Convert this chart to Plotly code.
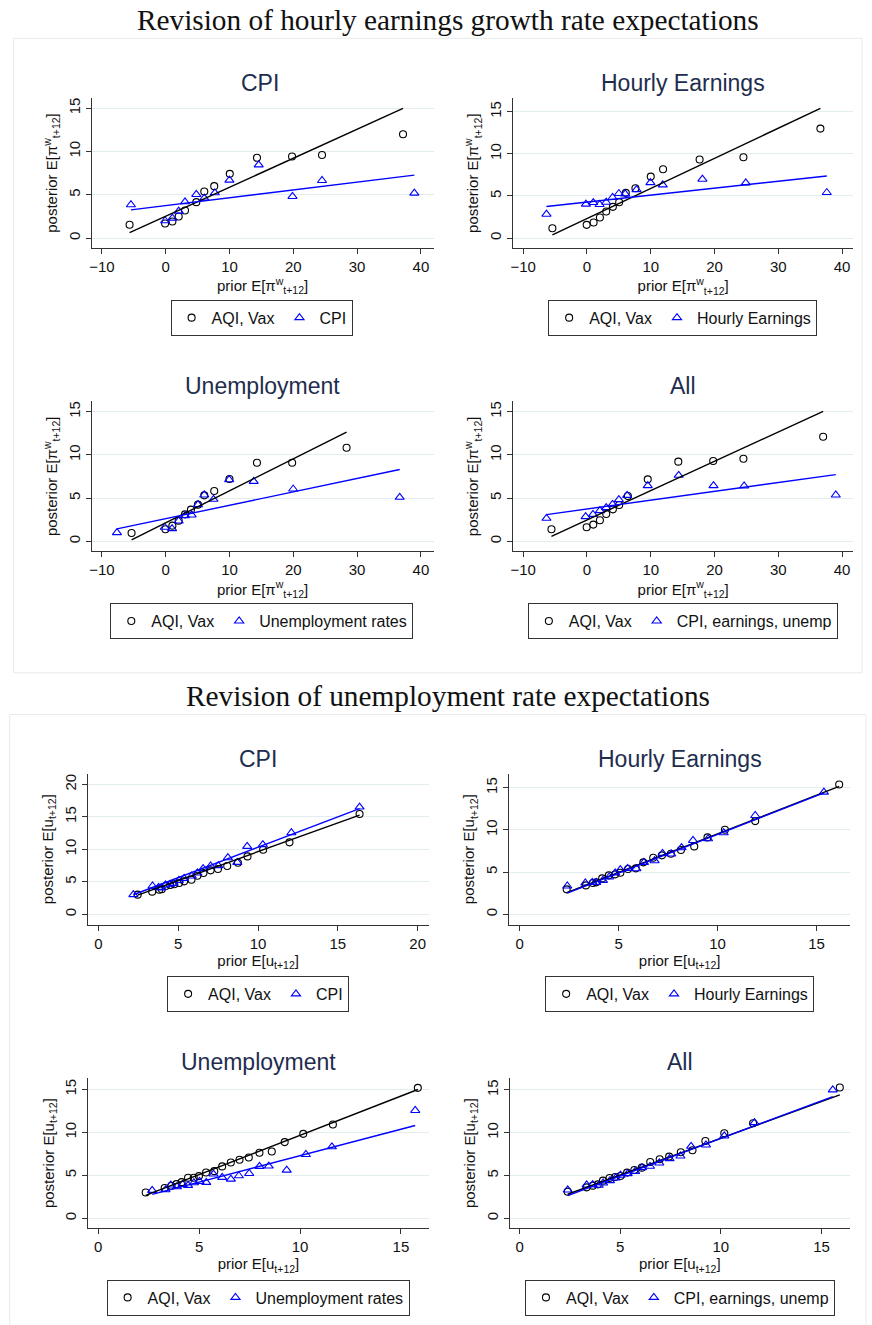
import plotly.graph_objects as go

W, H = 872, 1325

# ---------------- Revision of hourly earnings growth expectations ----------------
wage_panels = ["CPI", "Hourly Earnings", "Unemployment", "All"]
wage_info_names = ["CPI", "Hourly Earnings", "Unemployment rates", "CPI, earnings, unemp"]

wage_cpi_aqi_x = [-5.67, -0.1, 1.04, 2.03, 3.02, 4.79, 6.04, 7.6, 10.04, 14.3, 19.8, 24.5, 37.2]
wage_cpi_aqi_y = [1.54, 1.69, 1.92, 2.5, 3.19, 4.15, 5.38, 6.0, 7.42, 9.27, 9.42, 9.6, 12.0]
wage_cpi_info_x = [-5.46, -0.1, 1.04, 2.03, 3.02, 4.79, 6.04, 7.7, 9.99, 14.57, 19.87, 24.5, 38.97]
wage_cpi_info_y = [3.85, 2.0, 2.31, 3.12, 4.19, 5.04, 4.62, 5.23, 6.69, 8.46, 4.81, 6.65, 5.19]

wage_he_aqi_x = [-5.42, -0.05, 1.04, 2.03, 3.02, 4.06, 5.05, 6.09, 7.6, 10.0, 11.93, 17.66, 24.53, 36.6]
wage_he_aqi_y = [1.18, 1.58, 1.86, 2.45, 3.16, 3.71, 4.26, 5.37, 5.92, 7.3, 8.17, 9.32, 9.59, 12.99]
wage_he_info_x = [-6.35, -0.16, 0.99, 1.98, 3.02, 4.01, 5.0, 5.99, 7.76, 9.95, 11.88, 18.1, 24.9, 37.6]
wage_he_info_y = [2.84, 4.03, 4.22, 3.99, 4.26, 4.82, 5.29, 5.25, 5.76, 6.59, 6.32, 6.99, 6.55, 5.41]

wage_un_aqi_x = [-5.36, -0.05, 1.04, 2.03, 3.02, 3.95, 5.05, 6.04, 7.6, 9.99, 14.3, 19.82, 28.35]
wage_un_aqi_y = [0.96, 1.39, 1.81, 2.39, 3.12, 3.66, 4.24, 5.32, 5.82, 7.21, 9.1, 9.1, 10.84]
wage_un_info_x = [-7.65, -0.16, 0.99, 2.03, 3.02, 4.06, 5.05, 6.04, 7.49, 9.94, 13.79, 19.98, 36.68]
wage_un_info_y = [1.0, 1.62, 1.47, 2.35, 2.97, 3.05, 4.24, 5.36, 4.86, 7.13, 6.94, 6.05, 5.09]

wage_all_aqi_x = [-5.57, -0.05, 0.99, 2.03, 3.02, 4.06, 5.05, 6.41, 9.53, 14.32, 19.79, 24.53, 37.03]
wage_all_aqi_y = [1.39, 1.62, 1.93, 2.43, 3.16, 3.7, 4.2, 5.24, 7.17, 9.22, 9.29, 9.56, 12.11]
wage_all_info_x = [-6.35, -0.21, 0.94, 2.03, 3.02, 4.01, 5.0, 6.3, 9.53, 14.38, 19.84, 24.64, 39.01]
wage_all_info_y = [2.66, 2.85, 3.12, 3.55, 3.9, 4.28, 4.82, 5.32, 6.44, 7.64, 6.44, 6.4, 5.36]

# linear fits (intercept, slope) per panel
wage_aqi_intercept = [2.52, 2.33, 2.136, 2.47]
wage_aqi_slope = [0.335, 0.357, 0.3707, 0.3398]
wage_info_intercept = [3.755, 4.27, 2.617, 3.738]
wage_info_slope = [0.0904, 0.0826, 0.1551, 0.102]

# ---------------- Revision of unemployment rate expectations ----------------
unemp_panels = ["CPI", "Hourly Earnings", "Unemployment", "All"]
unemp_info_names = ["CPI", "Hourly Earnings", "Unemployment rates", "CPI, earnings, unemp"]

unemp_cpi_aqi_x = [2.46, 3.37, 3.81, 3.97, 4.22, 4.5, 4.75, 5.06, 5.37, 5.83, 6.2, 6.58, 7.03, 7.49, 8.07, 8.74, 9.34, 10.32, 11.97, 16.36]
unemp_cpi_aqi_y = [3.03, 3.49, 3.79, 3.85, 4.36, 4.51, 4.62, 4.82, 5.08, 5.33, 5.95, 6.36, 6.77, 6.97, 7.44, 7.95, 8.92, 9.95, 11.08, 15.44]
unemp_cpi_info_x = [2.19, 3.39, 3.77, 3.93, 4.2, 4.5, 4.7, 5.04, 5.37, 5.85, 6.2, 6.56, 7.03, 7.51, 8.11, 8.7, 9.32, 10.3, 12.09, 16.36]
unemp_cpi_info_y = [3.03, 4.36, 4.15, 4.05, 4.51, 4.62, 4.77, 5.23, 5.54, 5.9, 6.36, 7.03, 7.44, 7.49, 8.72, 8.0, 10.46, 10.72, 12.56, 16.51]

unemp_he_aqi_x = [2.38, 3.35, 3.7, 3.87, 4.17, 4.51, 4.83, 5.09, 5.48, 5.87, 6.25, 6.75, 7.19, 7.64, 8.15, 8.82, 9.49, 10.37, 11.9, 16.14]
unemp_he_aqi_y = [2.96, 3.43, 3.71, 3.79, 4.26, 4.62, 4.74, 4.93, 5.37, 5.45, 6.16, 6.71, 6.99, 7.18, 7.62, 8.05, 9.12, 10.03, 11.05, 15.4]
unemp_he_info_x = [2.41, 3.32, 3.67, 3.87, 4.21, 4.52, 4.83, 5.09, 5.46, 5.9, 6.28, 6.82, 7.22, 7.66, 8.18, 8.76, 9.52, 10.31, 11.9, 15.37]
unemp_he_info_y = [3.36, 3.71, 3.79, 3.79, 4.03, 4.42, 4.9, 5.29, 5.45, 5.41, 6.16, 6.36, 7.22, 7.15, 7.9, 8.76, 8.96, 9.67, 11.72, 14.49]

unemp_un_aqi_x = [2.35, 3.29, 3.62, 3.87, 4.13, 4.45, 4.73, 4.99, 5.34, 5.75, 6.14, 6.57, 7.0, 7.46, 7.99, 8.6, 9.24, 10.16, 11.63, 15.84]
unemp_un_aqi_y = [3.02, 3.53, 3.8, 3.99, 4.22, 4.73, 4.73, 4.92, 5.35, 5.5, 6.05, 6.51, 6.82, 7.09, 7.64, 7.79, 8.88, 9.84, 10.93, 15.19]
unemp_un_info_x = [2.67, 3.33, 3.59, 3.9, 4.18, 4.45, 4.74, 5.02, 5.35, 5.71, 6.14, 6.57, 6.97, 7.48, 7.99, 8.45, 9.34, 10.29, 11.58, 15.71]
unemp_un_info_y = [3.26, 3.33, 3.88, 3.68, 3.95, 3.84, 4.15, 4.3, 4.19, 5.16, 4.77, 4.57, 4.96, 5.23, 6.05, 6.09, 5.62, 7.44, 8.33, 12.56]

unemp_all_aqi_x = [2.39, 3.33, 3.64, 3.89, 4.14, 4.47, 4.75, 5.01, 5.34, 5.7, 6.07, 6.49, 6.96, 7.43, 8.01, 8.59, 9.23, 10.17, 11.6, 15.91]
unemp_all_aqi_y = [3.12, 3.62, 3.82, 3.97, 4.4, 4.71, 4.83, 4.95, 5.34, 5.65, 5.92, 6.58, 6.9, 7.21, 7.71, 7.95, 9.04, 9.93, 11.1, 15.27]
unemp_all_info_x = [2.39, 3.33, 3.63, 3.93, 4.15, 4.49, 4.77, 5.01, 5.37, 5.74, 6.08, 6.48, 6.94, 7.45, 7.99, 8.52, 9.26, 10.17, 11.67, 15.56]
unemp_all_info_y = [3.31, 3.9, 3.93, 3.86, 4.13, 4.4, 4.71, 5.03, 5.22, 5.49, 5.92, 6.08, 6.47, 6.97, 7.28, 8.41, 8.57, 9.62, 11.18, 15.0]

unemp_aqi_intercept = [0.792, 0.392, 0.522, 0.764]
unemp_aqi_slope = [0.8856, 0.915, 0.914, 0.858]
unemp_info_intercept = [0.964, 0.299, 1.148, 0.568]
unemp_info_slope = [0.935, 0.918, 0.615, 0.877]

# tick values
wage_xticks = [-10, 0, 10, 20, 30, 40]
wage_yticks = [0, 5, 10, 15]
unemp_cpi_ticks = [0, 5, 10, 15, 20]
unemp_ticks = [0, 5, 10, 15]

# ---------------- layout geometry (pixels) ----------------
# (left, right, top, bottom) of each plot region, x range, y range
panel_boxes = [
    (89, 432, 97.3, 247.0, [-11.61, 41.98], [-1.12, 16.15]),
    (512, 853, 97.3, 247.3, [-11.56, 41.72], [-1.18, 16.59]),
    (89, 432, 400.7, 550.7, [-11.61, 41.98], [-1.16, 16.2]),
    (512, 853, 400.7, 550.7, [-11.56, 41.72], [-1.16, 16.2]),
    (85, 427, 773.3, 924.3, [-0.67, 20.68], [-1.58, 21.64]),
    (508, 850, 773.3, 924.3, [-0.52, 16.69], [-1.22, 16.67]),
    (85.7, 427, 1077.7, 1228.3, [-0.49, 16.37], [-1.16, 16.35]),
    (508.3, 850, 1077.7, 1228.3, [-0.5, 16.42], [-1.17, 16.4]),
]
title_pos = [(258, 81.7), (682.7, 81.7), (260, 385), (682, 385),
             (256, 758.3), (679.3, 758.3), (256.7, 1061.7), (679.3, 1061.7)]
legend_pos = [(259.5, 317), (682, 317), (259.7, 620.5), (682.2, 620.5),
              (256, 993.7), (679, 993.7), (256, 1297.5), (679.3, 1297.5)]


def px(x):
    return x / W


def py(y):
    return 1 - y / H


panels = [
    (wage_cpi_aqi_x, wage_cpi_aqi_y, wage_cpi_info_x, wage_cpi_info_y),
    (wage_he_aqi_x, wage_he_aqi_y, wage_he_info_x, wage_he_info_y),
    (wage_un_aqi_x, wage_un_aqi_y, wage_un_info_x, wage_un_info_y),
    (wage_all_aqi_x, wage_all_aqi_y, wage_all_info_x, wage_all_info_y),
    (unemp_cpi_aqi_x, unemp_cpi_aqi_y, unemp_cpi_info_x, unemp_cpi_info_y),
    (unemp_he_aqi_x, unemp_he_aqi_y, unemp_he_info_x, unemp_he_info_y),
    (unemp_un_aqi_x, unemp_un_aqi_y, unemp_un_info_x, unemp_un_info_y),
    (unemp_all_aqi_x, unemp_all_aqi_y, unemp_all_info_x, unemp_all_info_y),
]
fits = (list(zip(wage_aqi_intercept, wage_aqi_slope, wage_info_intercept, wage_info_slope))
        + list(zip(unemp_aqi_intercept, unemp_aqi_slope, unemp_info_intercept, unemp_info_slope)))
titles = wage_panels + unemp_panels
info_names = wage_info_names + unemp_info_names

SANS = "Liberation Sans, Arial, sans-serif"
GRID = "#e3ecee"
AXIS = "#333333"
NAVY = "#1e2d4e"
BLUE = "#0000ff"

wage_lab = "E[π<sup>w</sup><sub>t+12</sub>]"
unemp_lab = "E[u<sub>t+12</sub>]"

fig = go.Figure()
layout = {}
annotations = []

for i, (ax_x, ax_y, in_x, in_y) in enumerate(panels):
    n = i + 1
    xa = "x" if n == 1 else f"x{n}"
    ya = "y" if n == 1 else f"y{n}"
    leg = "legend" if n == 1 else f"legend{n}"
    a0, b0, a1, b1 = fits[i]

    fig.add_trace(go.Scatter(
        x=ax_x, y=ax_y, mode="markers", name="AQI, Vax", xaxis=xa, yaxis=ya, legend=leg,
        marker=dict(symbol="circle-open", size=7, color="black", line=dict(width=1.1))))
    fig.add_trace(go.Scatter(
        x=in_x, y=in_y, mode="markers", name=info_names[i], xaxis=xa, yaxis=ya, legend=leg,
        marker=dict(symbol="triangle-up-open", size=8, color=BLUE, line=dict(width=1.1))))
    lx = [min(ax_x), max(ax_x)]
    fig.add_trace(go.Scatter(
        x=lx, y=[a0 + b0 * v for v in lx], mode="lines", showlegend=False,
        xaxis=xa, yaxis=ya, line=dict(color="black", width=1.4), hoverinfo="skip"))
    lx = [min(in_x), max(in_x)]
    fig.add_trace(go.Scatter(
        x=lx, y=[a1 + b1 * v for v in lx], mode="lines", showlegend=False,
        xaxis=xa, yaxis=ya, line=dict(color=BLUE, width=1.4), hoverinfo="skip"))

    left, right, top, bottom, xr, yr = panel_boxes[i]
    if i < 4:
        xt, yt, lab = wage_xticks, wage_yticks, wage_lab
    elif i == 4:
        xt, yt, lab = unemp_cpi_ticks, unemp_cpi_ticks, unemp_lab
    else:
        xt, yt, lab = unemp_ticks, unemp_ticks, unemp_lab

    axis_common = dict(showline=True, linecolor=AXIS, linewidth=1, ticks="outside",
                       ticklen=5, tickcolor=AXIS, tickwidth=1, zeroline=False,
                       tickfont=dict(family=SANS, size=15, color="#111"))
    layout["xaxis" if n == 1 else f"xaxis{n}"] = dict(
        domain=[px(left), px(right)], range=xr, anchor=ya, tickvals=xt, showgrid=False,
        title=dict(text="prior " + lab, font=dict(family=SANS, size=15, color="#111"), standoff=4),
        **axis_common)
    layout["yaxis" if n == 1 else f"yaxis{n}"] = dict(
        domain=[py(bottom), py(top)], range=yr, anchor=xa, tickvals=yt, tickangle=-90,
        showgrid=True, gridcolor=GRID, gridwidth=1,
        title=dict(text="posterior " + lab, font=dict(family=SANS, size=15, color="#111"), standoff=4),
        **axis_common)

    tx, ty = title_pos[i]
    annotations.append(dict(x=px(tx), y=py(ty), xref="paper", yref="paper", text=titles[i],
                            showarrow=False, xanchor="center", yanchor="middle",
                            font=dict(family=SANS, size=23, color=NAVY)))

    lxp, lyp = legend_pos[i]
    layout[leg] = dict(x=px(lxp), y=py(lyp), xanchor="center", yanchor="middle",
                       orientation="h", bordercolor=AXIS, borderwidth=1, bgcolor="white",
                       font=dict(family=SANS, size=16, color="#111"), itemwidth=30,
                       entrywidth=0, traceorder="normal")

annotations.append(dict(x=px(446.5), y=py(19.5), xref="paper", yref="paper",
                        text="Revision of hourly earnings growth rate expectations",
                        showarrow=False, xanchor="center", yanchor="middle",
                        font=dict(family="Liberation Serif, serif", size=29.3, color="#111")))
annotations.append(dict(x=px(446.5), y=py(696), xref="paper", yref="paper",
                        text="Revision of unemployment rate expectations",
                        showarrow=False, xanchor="center", yanchor="middle",
                        font=dict(family="Liberation Serif, serif", size=29.3, color="#111")))

frame = dict(type="rect", xref="paper", yref="paper", line=dict(color="#e8ebeb", width=1),
             fillcolor="rgba(0,0,0,0)", layer="below")
shapes = [
    dict(frame, x0=px(10.7), x1=px(862), y0=py(672.3), y1=py(37.3)),
    dict(frame, x0=px(6.7), x1=px(866), y0=py(1330), y1=py(714)),
]

fig.update_layout(width=W, height=H, margin=dict(l=0, r=0, t=0, b=0),
                  paper_bgcolor="white", plot_bgcolor="white",
                  annotations=annotations, shapes=shapes, **layout)

fig.write_html("out.html")
